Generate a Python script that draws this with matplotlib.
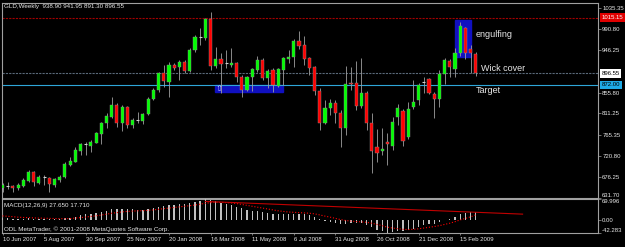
import matplotlib.pyplot as plt
from matplotlib.patches import Rectangle
from matplotlib.transforms import blended_transform_factory
import numpy as np

# weekly OHLC, 10 Jun 2007 .. 8 Mar 2009
opens = [651.5, 657.2, 657.2, 652.9, 657.2, 667.1, 685.6, 662.2, 676.4, 674.2,
         658.6, 669.3, 675.0, 701.3, 708.4, 731.8, 745.3, 742.5, 748.9, 768.1,
         790.1, 804.3, 829.2, 790.1, 825.6, 786.5, 797.1, 795.7, 809.9, 841.9,
         861.1, 896.6, 878.9, 914.4, 909.4, 921.5, 902.3, 946.4, 974.8, 971.3,
         1011.8, 912.3, 926.5, 918.0, 914.4, 919.4, 889.5, 861.1, 888.1, 903.8,
         925.1, 886.0, 903.8, 869.6, 903.8, 927.9, 930.8, 965.6, 957.1, 928.6,
         910.9, 859.0, 791.5, 822.0, 834.1, 812.8, 779.4, 875.3, 875.3, 827.0,
         855.4, 790.0, 740.3, 731.1, 751.0, 741.7, 802.8, 817.1, 760.2, 825.6,
         839.8, 878.9, 883.9, 851.9, 841.2, 895.2, 923.7, 905.2, 939.3, 992.6,
         947.8, 938.90]
highs = [662.2, 664.3, 658.6, 662.2, 672.8, 690.6, 688.5, 679.9, 679.9, 676.4,
         672.8, 679.9, 708.4, 719.0, 740.3, 748.9, 751.0, 754.6, 770.9, 792.2,
         811.4, 847.0, 832.7, 829.2, 827.0, 800.7, 814.9, 812.8, 845.5, 864.7,
         900.2, 914.4, 921.5, 918.0, 925.1, 925.1, 949.9, 978.4, 992.6, 1013.9,
         1028.1, 953.5, 939.3, 946.4, 949.9, 921.5, 893.1, 891.0, 907.3, 933.6,
         928.6, 905.2, 907.3, 907.3, 932.2, 947.0, 969.1, 986.9, 976.2, 930.8,
         912.3, 864.7, 839.8, 841.2, 839.8, 818.5, 912.3, 909.4, 923.7, 928.6,
         859.7, 811.4, 777.3, 779.4, 770.1, 802.8, 831.3, 819.9, 836.2, 882.4,
         875.3, 889.5, 886.0, 857.6, 903.8, 928.6, 926.5, 949.9, 1006.8, 996.1,
         957.1, 941.95]
lows = [644.4, 650.1, 643.0, 648.0, 655.1, 664.3, 657.2, 660.0, 658.6, 644.4,
        655.1, 664.3, 672.8, 699.8, 706.9, 722.6, 722.6, 728.3, 747.4, 745.3,
        779.4, 800.8, 783.0, 774.5, 779.4, 779.4, 790.0, 788.6, 807.8, 839.8,
        857.6, 868.2, 846.9, 903.8, 882.4, 898.1, 900.2, 942.8, 957.1, 967.7,
        903.8, 907.3, 854.0, 907.3, 910.9, 878.9, 845.5, 859.7, 859.7, 900.2,
        882.4, 864.7, 857.6, 866.8, 871.8, 918.0, 910.9, 947.8, 914.4, 893.1,
        850.5, 775.8, 788.6, 807.8, 790.0, 738.9, 765.2, 861.1, 818.5, 822.0,
        775.8, 683.4, 708.3, 722.5, 701.2, 733.2, 786.5, 741.7, 755.9, 819.9,
        829.1, 854.0, 852.6, 800.7, 824.2, 873.9, 888.1, 889.5, 933.6, 926.5,
        896.6, 891.30]
closes = [658.6, 657.2, 652.9, 658.6, 669.3, 685.6, 664.3, 676.4, 676.4, 660.0,
          670.7, 676.4, 703.4, 709.8, 733.2, 745.3, 745.3, 749.6, 768.8, 790.8,
          806.4, 829.2, 790.8, 825.6, 786.5, 797.1, 797.1, 809.9, 841.9, 861.1,
          896.6, 881.0, 914.4, 907.3, 921.5, 902.3, 946.4, 974.8, 974.8, 1011.8,
          912.3, 926.5, 916.5, 918.0, 919.4, 889.5, 861.1, 888.1, 905.2, 925.1,
          886.0, 902.3, 871.8, 905.2, 928.6, 930.8, 965.6, 955.6, 927.2, 908.7,
          859.0, 791.5, 822.0, 834.1, 812.8, 779.4, 873.9, 873.9, 827.0, 855.4,
          790.0, 731.8, 726.1, 735.3, 745.3, 792.2, 822.0, 753.1, 819.9, 836.2,
          871.1, 878.9, 854.0, 841.2, 895.2, 925.1, 910.9, 939.3, 997.6, 939.3,
          940.7, 896.55]

# MACD(12,26,9) main (histogram) and signal
macd = [8, 7, 5, 4, 4, 6, 5, 5, 5, 4, 4, 4,
        6, 8, 12, 16, 19, 21, 24, 28, 32, 36,
        36, 38, 37, 36, 35, 35, 37, 40, 44, 46,
        49, 51, 53, 53, 56, 61, 64, 69.996, 66, 62,
        58, 54, 50, 45, 39, 35, 32, 30, 27, 25,
        21, 20, 20, 19, 21, 22, 21, 18, 12, 3,
        -2, -5, -9, -14, -11, -9, -10, -10, -15, -24,
        -31, -36, -42.283, -40, -36, -37, -33, -28, -22, -17,
        -14, -12, -6, 1, 5, 10, 19, 24, 27, 27.65]
signal = [14, 13, 11.5, 10, 9, 8.5, 7.5, 7, 6.5, 6, 5.5, 5,
          5, 5.5, 7, 8.5, 10.5, 12.5, 14.5, 17, 20, 23,
          25, 27.5, 29, 30, 31, 31.5, 32.5, 34, 36, 38,
          40, 42, 44, 46, 48, 50, 53, 56, 58, 59,
          59, 58, 57, 55, 52, 49, 46, 43, 40, 37,
          34, 31, 29, 27, 26, 25, 24, 23, 21, 17.5,
          13.5, 10, 6, 2, -1, -3, -4.5, -5.5, -7, -10,
          -14, -18, -23, -26, -28, -30, -31, -30, -28.5, -26,
          -23.5, -21, -18, -14, -10, -5, 1, 6, 11, 17.71]

date_ticks = [0, 8, 16, 24, 32, 40, 48, 56, 64, 72, 80, 88]
date_labels = ["10 Jun 2007", "5 Aug 2007", "30 Sep 2007", "25 Nov 2007",
               "20 Jan 2008", "16 Mar 2008", "11 May 2008", "6 Jul 2008",
               "31 Aug 2008", "26 Oct 2008", "21 Dec 2008", "15 Feb 2009"]
price_ticks = [631.70, 676.25, 720.80, 765.35, 811.25, 855.80, 946.25, 990.80, 1035.35]
macd_ticks = [69.996, 0.0, -42.283]
macd_tick_labels = ["69.996", "0.00", "-42.283"]

# drawn objects on the chart
resistance = 1015.15
bid = 896.55
target = 872.00
engulf_box = (87.0, 90.1, 932, 1011)
support_box = (40.9, 54.0, 856, 872)
macd_trend = ([39, 100], [62, 20])

FONT = "Liberation Sans"
FG = "#e8e8e8"
FRAME = "#a0a0a0"

fig = plt.figure(figsize=(6.25, 2.47), dpi=100, facecolor="black")
ax = fig.add_axes([2/625, 49/247, 596/625, 195/247], facecolor="black")
mx = fig.add_axes([2/625, 14/247, 596/625, 34/247], facecolor="black", sharex=ax)

x = np.arange(len(closes))
o, h, l, c = map(np.array, (opens, highs, lows, closes))
up, dn, flat = c > o, c < o, c == o

# boxes sit behind the candles
for x0, x1, y0, y1 in (engulf_box, support_box):
    ax.add_patch(Rectangle((x0, y0), x1 - x0, y1 - y0, color="#1010c0", zorder=1))

ax.axhline(resistance, color="#a00000", ls=(0, (2, 1)), lw=0.8, zorder=2)
ax.axhline(bid, color="#5a6a7a", ls=(0, (2, 1)), lw=0.8, zorder=2)
ax.axhline(target, color="#2ea6d9", lw=0.8, zorder=2)

ax.vlines(x, l, h, color="#a0a0a0", lw=0.6, zorder=3)
ax.bar(x[up], (c - o)[up], bottom=o[up], width=0.6, color="#00ff00",
       edgecolor="#909090", lw=0.3, zorder=4)
ax.bar(x[dn], (o - c)[dn], bottom=c[dn], width=0.6, color="#ff0000",
       edgecolor="#909090", lw=0.3, zorder=4)
ax.hlines(c[flat], x[flat] - 0.3, x[flat] + 0.3, color="#d0d0d0", lw=0.8, zorder=4)

ax.text(41.6, 864, "\u21e7", color="#c8c8ff", fontsize=6, ha="center", va="center",
        family=["DejaVu Sans"], zorder=5)
ax.text(90.9, 980, "engulfing", color=FG, fontsize=6.5, family=FONT, va="center")
ax.text(92.0, 908, "Wick cover", color=FG, fontsize=6.5, family=FONT, va="center")
ax.text(90.9, 861, "Target", color=FG, fontsize=6.5, family=FONT, va="center")
ax.text(0.004, 0.995, "GLD,Weekly  938.90 941.95 891.30 896.55", transform=ax.transAxes,
        color=FG, fontsize=4.5, family=FONT, va="top")

ax.set_xlim(-0.1, 114.5)
ax.set_ylim(630.9, 1046.6)
ax.yaxis.tick_right()
ax.set_yticks(price_ticks)
ax.set_yticklabels([f"{v:.2f}" for v in price_ticks])
ax.get_yticklabels()[0].set_va("bottom")
ax.tick_params(axis="y", colors=FRAME, labelcolor=FG, labelsize=4.3, length=2,
               width=0.5, pad=1)
ax.tick_params(axis="x", bottom=False, labelbottom=False)

# price tags on the scale
tr = blended_transform_factory(ax.transAxes, ax.transData)
for val, bg, fg in ((resistance, "#e00000", "white"), (bid, "white", "black"),
                    (target, "#1eaae6", "black")):
    ax.text(1.006, val, f"{val:.2f}", transform=tr, color=fg, fontsize=4.3,
            family=FONT, va="center", ha="left", clip_on=False,
            bbox=dict(boxstyle="square,pad=0.3", fc=bg, ec="none"))

# MACD window
mx.bar(x, macd, width=0.25, color="#c0c0c0", zorder=3)
mx.plot(x, signal, color="#ff0000", ls=":", lw=0.8, zorder=4)
mx.plot(*macd_trend, color="#c00000", lw=0.8, zorder=4)
mx.set_ylim(-42.283, 69.996)
mx.yaxis.tick_right()
mx.set_yticks(macd_ticks)
mx.set_yticklabels(macd_tick_labels)
lbls = mx.get_yticklabels()
lbls[0].set_va("top")
lbls[-1].set_va("bottom")
mx.tick_params(axis="y", colors=FRAME, labelcolor=FG, labelsize=4.3, length=2,
               width=0.5, pad=1)
mx.set_xticks(date_ticks)
mx.set_xticklabels(date_labels, ha="left")
mx.tick_params(axis="x", colors=FRAME, labelcolor=FG, labelsize=4.3, length=1.5,
               width=0.5, pad=1.4)
mx.text(0.004, 0.80, "MACD(12,26,9) 27.650 17.710", transform=mx.transAxes,
        color=FG, fontsize=4.5, family=FONT, va="center")
mx.text(0.004, 0.02, "ODL MetaTrader, \u00a9 2001-2008 MetaQuotes Software Corp.",
        transform=mx.transAxes, color=FG, fontsize=4.5, family=FONT, va="bottom")

for a in (ax, mx):
    for s in a.spines.values():
        s.set_color(FRAME)
        s.set_linewidth(0.8)
    for t in a.get_xticklabels() + a.get_yticklabels():
        t.set_family(FONT)

fig.savefig("out.png", dpi=100, facecolor="black")
